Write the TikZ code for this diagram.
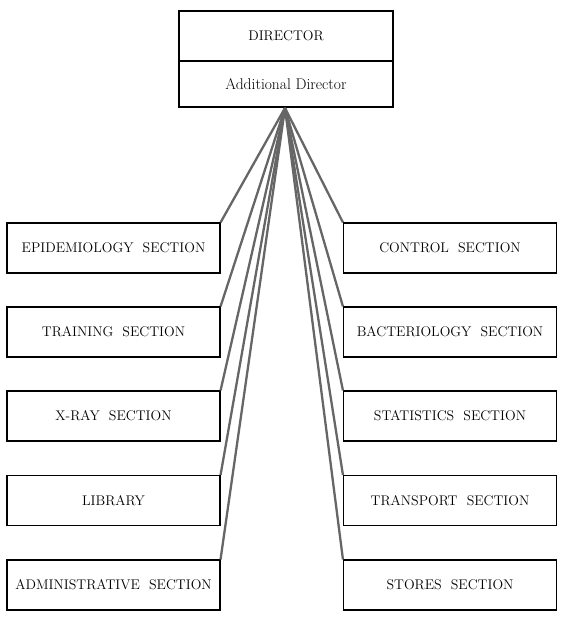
\documentclass[tikz,border=0pt]{standalone}
\begin{document}
\begin{tikzpicture}[x=1pt,y=-1pt,
  box/.style={draw=black,line width=1.1pt,fill=white,minimum width=213pt,minimum height=50pt,inner sep=0pt,font=\fontsize{14}{16}\selectfont},
  link/.style={draw=black!60,line width=2.3pt}]
\useasboundingbox (0,0) rectangle (565,619);
% top box
\node[box,minimum width=214pt,minimum height=50pt] (dir) at (286,36) {DIRECTOR};
\node[box,minimum width=214pt,minimum height=46pt,font=\fontsize{15.5}{17}\selectfont] (add) at (286,84) {Additional Director};
\coordinate (hub) at (285,108);
% left
\node[box] (l1) at (113.5,248) {EPIDEMIOLOGY\ \ SECTION};
\node[box] (l2) at (113.5,332) {TRAINING\ \ SECTION};
\node[box] (l3) at (113.5,416) {X-RAY\ \ SECTION};
\node[box] (l4) at (113.5,500.5) {LIBRARY};
\node[box] (l5) at (113.5,585) {ADMINISTRATIVE\ \ SECTION};
% right
\node[box] (r1) at (450,248) {CONTROL\ \ SECTION};
\node[box] (r2) at (450,332) {BACTERIOLOGY\ \ SECTION};
\node[box] (r3) at (450,416) {STATISTICS\ \ SECTION};
\node[box] (r4) at (450,500.5) {TRANSPORT\ \ SECTION};
\node[box] (r5) at (450,585) {STORES\ \ SECTION};
\foreach \n in {l1,l2,l3,l4,l5} \draw[link] (hub) -- (\n.north east);
\foreach \n in {r1,r2,r3,r4,r5} \draw[link] (hub) -- (\n.north west);
\end{tikzpicture}
\end{document}
